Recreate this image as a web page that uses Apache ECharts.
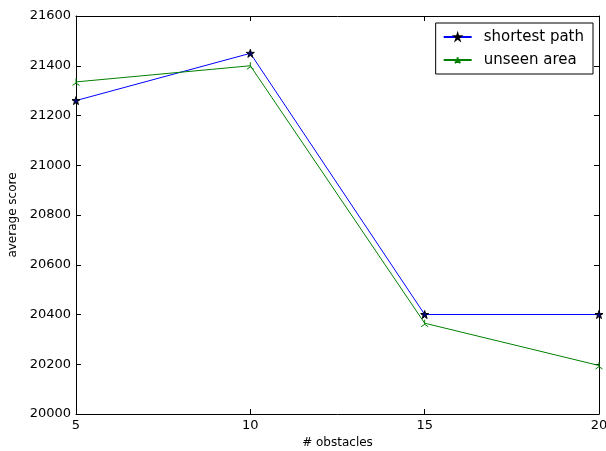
<!DOCTYPE html>
<html>
<head>
<meta charset="utf-8">
<script src="https://cdn.jsdelivr.net/npm/echarts@6/dist/echarts.min.js"></script>
<style>
  html, body { margin: 0; padding: 0; background: #fff; }
  #chart { width: 606px; height: 451px; }
</style>
</head>
<body>
<div id="chart"></div>
<script>
// data
var obstacles = [5, 10, 15, 20];
var shortestPath = [21260, 21450, 20400, 20400];
var unseenArea = [21335, 21400, 20365, 20195];
var seriesNames = ['shortest path', 'unseen area'];

var starPath = 'path://M50,0 L61.17,34.63 L97.55,34.55 L68.07,55.87 L79.39,90.45 L50,69 L20.61,90.45 L31.93,55.87 L2.45,34.55 L38.83,34.63 Z';
var triUpPath = 'path://M50,50 L50,0 M50,50 L93,75 M50,50 L7,75';

function pairs(xs, ys) {
  return xs.map(function (x, i) { return [x, ys[i]]; });
}

var myChart = echarts.init(document.getElementById('chart'));

var axisLine = { show: true, onZero: false, lineStyle: { color: '#000', width: 1 } };
var axisTick = { show: true, inside: true, length: 5, lineStyle: { color: '#000' } };
var font = 'DejaVu Sans';

var option = {
  animation: false,
  textStyle: { fontFamily: font },
  grid: { left: 76, top: 16, right: 7, bottom: 37, outerBoundsMode: 'none', containLabel: false },
  legend: {
    right: 13, top: 23,
    orient: 'vertical',
    backgroundColor: '#fff',
    borderColor: '#000', borderWidth: 1, borderRadius: 0,
    padding: [6, 9, 6, 7],
    itemGap: 7,
    itemWidth: 28, itemHeight: 7,
    textStyle: { fontFamily: font, fontSize: 15, color: '#000', lineHeight: 16, padding: [0, 0, 0, 7] },
    data: seriesNames
  },
  xAxis: [{
    type: 'value', min: 5, max: 20, interval: 5,
    name: '# obstacles', nameLocation: 'middle', nameGap: 22,
    nameTextStyle: { fontFamily: font, fontSize: 12, color: '#000' },
    axisLine: axisLine, axisTick: axisTick,
    axisLabel: { color: '#000', fontSize: 13, margin: 5 },
    splitLine: { show: false }
  }, {
    type: 'value', position: 'top', min: 5, max: 20, interval: 5,
    axisLine: axisLine, axisTick: axisTick,
    axisLabel: { show: false }, splitLine: { show: false }
  }],
  yAxis: [{
    type: 'value', min: 20000, max: 21600, interval: 200,
    name: 'average score', nameLocation: 'middle', nameGap: 49,
    nameTextStyle: { fontFamily: font, fontSize: 12, color: '#000' },
    axisLine: axisLine, axisTick: axisTick,
    axisLabel: { color: '#000', fontSize: 13, margin: 5, formatter: function (v) { return String(v); } },
    splitLine: { show: false }
  }, {
    type: 'value', position: 'right', min: 20000, max: 21600, interval: 200,
    axisLine: axisLine, axisTick: axisTick,
    axisLabel: { show: false }, splitLine: { show: false }
  }],
  series: [{
    name: seriesNames[0],
    type: 'line',
    data: pairs(obstacles, shortestPath),
    symbol: starPath, symbolSize: 8,
    itemStyle: { color: '#00007f', borderColor: '#000', borderWidth: 1 },
    lineStyle: { color: '#0000ff', width: 1 },
    clip: false
  }, {
    name: seriesNames[1],
    type: 'line',
    data: pairs(obstacles, unseenArea),
    symbol: triUpPath, symbolSize: 7,
    itemStyle: { color: 'rgba(0,0,0,0)', borderColor: '#008000', borderWidth: 1 },
    lineStyle: { color: '#008000', width: 1 },
    clip: false
  }]
};
myChart.setOption(option);
</script>
</body>
</html>
